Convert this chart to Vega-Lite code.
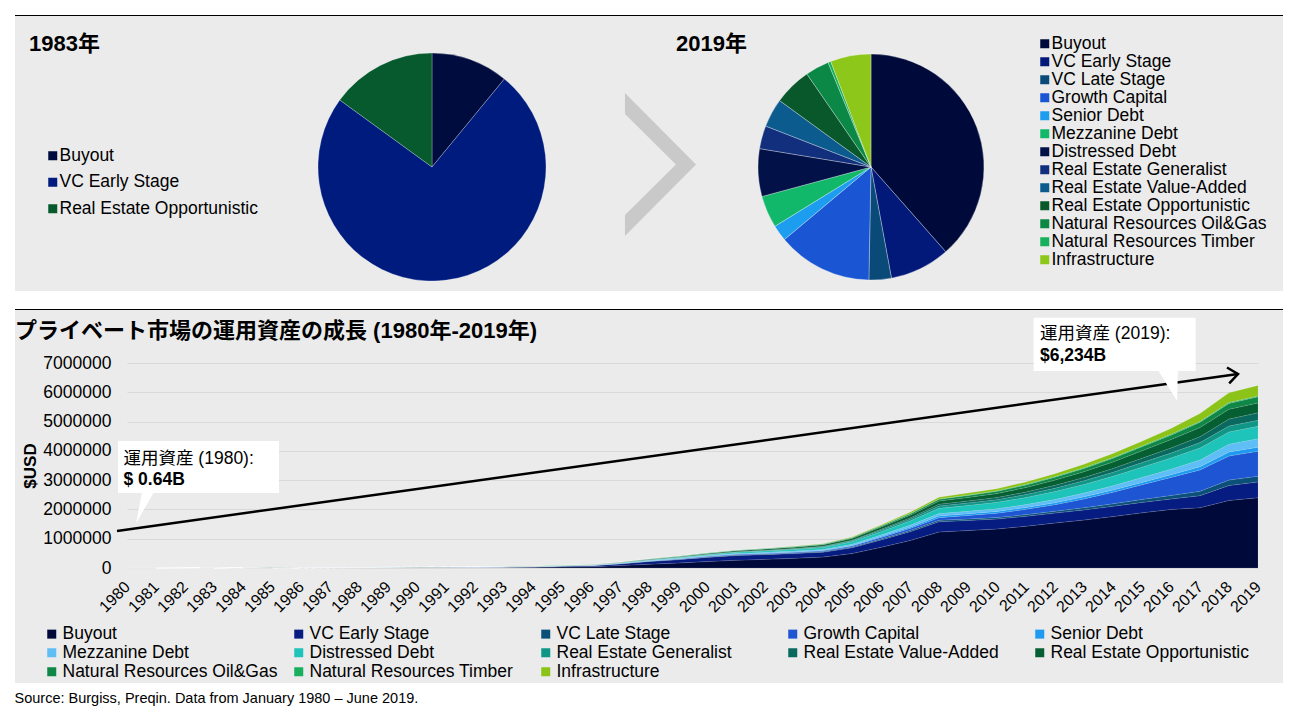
{
"$schema":"https://vega.github.io/schema/vega-lite/v6.json",
"padding":{"left":14,"top":14,"right":13,"bottom":8},
"background":"#ffffff",
"config":{"font":"Liberation Sans, Noto Sans CJK JP, sans-serif","view":{"fill":"#ebebeb","stroke":null},"legend":{"labelLimit":400,"labelColor":"#000000"},"axis":{"labelColor":"#000000","titleColor":"#000000"}},
"title":{"text":"Source: Burgiss, Preqin. Data from January 1980 – June 2019.","orient":"bottom","anchor":"start","fontSize":14.5,"fontWeight":"normal","color":"#000000","offset":9},
"datasets":{"aum":[
{"year":1980,"type":"Buyout","aum":60},{"year":1980,"type":"VC Early Stage","aum":520},{"year":1980,"type":"VC Late Stage","aum":0},{"year":1980,"type":"Growth Capital","aum":0},{"year":1980,"type":"Senior Debt","aum":0},{"year":1980,"type":"Mezzanine Debt","aum":0},{"year":1980,"type":"Distressed Debt","aum":0},{"year":1980,"type":"Real Estate Generalist","aum":0},{"year":1980,"type":"Real Estate Value-Added","aum":0},{"year":1980,"type":"Real Estate Opportunistic","aum":60},{"year":1980,"type":"Natural Resources Oil&Gas","aum":0},{"year":1980,"type":"Natural Resources Timber","aum":0},{"year":1980,"type":"Infrastructure","aum":0},
{"year":1981,"type":"Buyout","aum":100},{"year":1981,"type":"VC Early Stage","aum":780},{"year":1981,"type":"VC Late Stage","aum":0},{"year":1981,"type":"Growth Capital","aum":0},{"year":1981,"type":"Senior Debt","aum":0},{"year":1981,"type":"Mezzanine Debt","aum":0},{"year":1981,"type":"Distressed Debt","aum":0},{"year":1981,"type":"Real Estate Generalist","aum":0},{"year":1981,"type":"Real Estate Value-Added","aum":0},{"year":1981,"type":"Real Estate Opportunistic","aum":120},{"year":1981,"type":"Natural Resources Oil&Gas","aum":0},{"year":1981,"type":"Natural Resources Timber","aum":0},{"year":1981,"type":"Infrastructure","aum":0},
{"year":1982,"type":"Buyout","aum":160},{"year":1982,"type":"VC Early Stage","aum":1120},{"year":1982,"type":"VC Late Stage","aum":0},{"year":1982,"type":"Growth Capital","aum":0},{"year":1982,"type":"Senior Debt","aum":0},{"year":1982,"type":"Mezzanine Debt","aum":0},{"year":1982,"type":"Distressed Debt","aum":0},{"year":1982,"type":"Real Estate Generalist","aum":0},{"year":1982,"type":"Real Estate Value-Added","aum":0},{"year":1982,"type":"Real Estate Opportunistic","aum":220},{"year":1982,"type":"Natural Resources Oil&Gas","aum":0},{"year":1982,"type":"Natural Resources Timber","aum":0},{"year":1982,"type":"Infrastructure","aum":0},
{"year":1983,"type":"Buyout","aum":230},{"year":1983,"type":"VC Early Stage","aum":1555},{"year":1983,"type":"VC Late Stage","aum":0},{"year":1983,"type":"Growth Capital","aum":0},{"year":1983,"type":"Senior Debt","aum":0},{"year":1983,"type":"Mezzanine Debt","aum":0},{"year":1983,"type":"Distressed Debt","aum":0},{"year":1983,"type":"Real Estate Generalist","aum":0},{"year":1983,"type":"Real Estate Value-Added","aum":0},{"year":1983,"type":"Real Estate Opportunistic","aum":315},{"year":1983,"type":"Natural Resources Oil&Gas","aum":0},{"year":1983,"type":"Natural Resources Timber","aum":0},{"year":1983,"type":"Infrastructure","aum":0},
{"year":1984,"type":"Buyout","aum":420},{"year":1984,"type":"VC Early Stage","aum":2300},{"year":1984,"type":"VC Late Stage","aum":0},{"year":1984,"type":"Growth Capital","aum":0},{"year":1984,"type":"Senior Debt","aum":0},{"year":1984,"type":"Mezzanine Debt","aum":0},{"year":1984,"type":"Distressed Debt","aum":0},{"year":1984,"type":"Real Estate Generalist","aum":0},{"year":1984,"type":"Real Estate Value-Added","aum":0},{"year":1984,"type":"Real Estate Opportunistic","aum":480},{"year":1984,"type":"Natural Resources Oil&Gas","aum":0},{"year":1984,"type":"Natural Resources Timber","aum":0},{"year":1984,"type":"Infrastructure","aum":0},
{"year":1985,"type":"Buyout","aum":700},{"year":1985,"type":"VC Early Stage","aum":3100},{"year":1985,"type":"VC Late Stage","aum":0},{"year":1985,"type":"Growth Capital","aum":0},{"year":1985,"type":"Senior Debt","aum":0},{"year":1985,"type":"Mezzanine Debt","aum":100},{"year":1985,"type":"Distressed Debt","aum":0},{"year":1985,"type":"Real Estate Generalist","aum":0},{"year":1985,"type":"Real Estate Value-Added","aum":0},{"year":1985,"type":"Real Estate Opportunistic","aum":600},{"year":1985,"type":"Natural Resources Oil&Gas","aum":0},{"year":1985,"type":"Natural Resources Timber","aum":0},{"year":1985,"type":"Infrastructure","aum":0},
{"year":1986,"type":"Buyout","aum":1300},{"year":1986,"type":"VC Early Stage","aum":4000},{"year":1986,"type":"VC Late Stage","aum":200},{"year":1986,"type":"Growth Capital","aum":0},{"year":1986,"type":"Senior Debt","aum":0},{"year":1986,"type":"Mezzanine Debt","aum":200},{"year":1986,"type":"Distressed Debt","aum":0},{"year":1986,"type":"Real Estate Generalist","aum":0},{"year":1986,"type":"Real Estate Value-Added","aum":0},{"year":1986,"type":"Real Estate Opportunistic","aum":800},{"year":1986,"type":"Natural Resources Oil&Gas","aum":0},{"year":1986,"type":"Natural Resources Timber","aum":0},{"year":1986,"type":"Infrastructure","aum":0},
{"year":1987,"type":"Buyout","aum":3500},{"year":1987,"type":"VC Early Stage","aum":5500},{"year":1987,"type":"VC Late Stage","aum":500},{"year":1987,"type":"Growth Capital","aum":300},{"year":1987,"type":"Senior Debt","aum":0},{"year":1987,"type":"Mezzanine Debt","aum":600},{"year":1987,"type":"Distressed Debt","aum":300},{"year":1987,"type":"Real Estate Generalist","aum":0},{"year":1987,"type":"Real Estate Value-Added","aum":0},{"year":1987,"type":"Real Estate Opportunistic","aum":1300},{"year":1987,"type":"Natural Resources Oil&Gas","aum":0},{"year":1987,"type":"Natural Resources Timber","aum":0},{"year":1987,"type":"Infrastructure","aum":0},
{"year":1988,"type":"Buyout","aum":6000},{"year":1988,"type":"VC Early Stage","aum":7000},{"year":1988,"type":"VC Late Stage","aum":700},{"year":1988,"type":"Growth Capital","aum":500},{"year":1988,"type":"Senior Debt","aum":0},{"year":1988,"type":"Mezzanine Debt","aum":1200},{"year":1988,"type":"Distressed Debt","aum":800},{"year":1988,"type":"Real Estate Generalist","aum":0},{"year":1988,"type":"Real Estate Value-Added","aum":0},{"year":1988,"type":"Real Estate Opportunistic","aum":1800},{"year":1988,"type":"Natural Resources Oil&Gas","aum":0},{"year":1988,"type":"Natural Resources Timber","aum":0},{"year":1988,"type":"Infrastructure","aum":0},
{"year":1989,"type":"Buyout","aum":8500},{"year":1989,"type":"VC Early Stage","aum":8500},{"year":1989,"type":"VC Late Stage","aum":900},{"year":1989,"type":"Growth Capital","aum":700},{"year":1989,"type":"Senior Debt","aum":0},{"year":1989,"type":"Mezzanine Debt","aum":1600},{"year":1989,"type":"Distressed Debt","aum":1300},{"year":1989,"type":"Real Estate Generalist","aum":200},{"year":1989,"type":"Real Estate Value-Added","aum":0},{"year":1989,"type":"Real Estate Opportunistic","aum":2300},{"year":1989,"type":"Natural Resources Oil&Gas","aum":0},{"year":1989,"type":"Natural Resources Timber","aum":0},{"year":1989,"type":"Infrastructure","aum":0},
{"year":1990,"type":"Buyout","aum":11000},{"year":1990,"type":"VC Early Stage","aum":10000},{"year":1990,"type":"VC Late Stage","aum":1000},{"year":1990,"type":"Growth Capital","aum":900},{"year":1990,"type":"Senior Debt","aum":200},{"year":1990,"type":"Mezzanine Debt","aum":2000},{"year":1990,"type":"Distressed Debt","aum":1800},{"year":1990,"type":"Real Estate Generalist","aum":400},{"year":1990,"type":"Real Estate Value-Added","aum":0},{"year":1990,"type":"Real Estate Opportunistic","aum":2700},{"year":1990,"type":"Natural Resources Oil&Gas","aum":0},{"year":1990,"type":"Natural Resources Timber","aum":0},{"year":1990,"type":"Infrastructure","aum":0},
{"year":1991,"type":"Buyout","aum":12000},{"year":1991,"type":"VC Early Stage","aum":10500},{"year":1991,"type":"VC Late Stage","aum":1100},{"year":1991,"type":"Growth Capital","aum":1000},{"year":1991,"type":"Senior Debt","aum":300},{"year":1991,"type":"Mezzanine Debt","aum":2200},{"year":1991,"type":"Distressed Debt","aum":2200},{"year":1991,"type":"Real Estate Generalist","aum":500},{"year":1991,"type":"Real Estate Value-Added","aum":200},{"year":1991,"type":"Real Estate Opportunistic","aum":3000},{"year":1991,"type":"Natural Resources Oil&Gas","aum":0},{"year":1991,"type":"Natural Resources Timber","aum":0},{"year":1991,"type":"Infrastructure","aum":0},
{"year":1992,"type":"Buyout","aum":14000},{"year":1992,"type":"VC Early Stage","aum":11500},{"year":1992,"type":"VC Late Stage","aum":1200},{"year":1992,"type":"Growth Capital","aum":1100},{"year":1992,"type":"Senior Debt","aum":400},{"year":1992,"type":"Mezzanine Debt","aum":2500},{"year":1992,"type":"Distressed Debt","aum":2600},{"year":1992,"type":"Real Estate Generalist","aum":700},{"year":1992,"type":"Real Estate Value-Added","aum":300},{"year":1992,"type":"Real Estate Opportunistic","aum":3200},{"year":1992,"type":"Natural Resources Oil&Gas","aum":500},{"year":1992,"type":"Natural Resources Timber","aum":0},{"year":1992,"type":"Infrastructure","aum":0},
{"year":1993,"type":"Buyout","aum":17000},{"year":1993,"type":"VC Early Stage","aum":13000},{"year":1993,"type":"VC Late Stage","aum":1400},{"year":1993,"type":"Growth Capital","aum":1300},{"year":1993,"type":"Senior Debt","aum":500},{"year":1993,"type":"Mezzanine Debt","aum":2900},{"year":1993,"type":"Distressed Debt","aum":3000},{"year":1993,"type":"Real Estate Generalist","aum":900},{"year":1993,"type":"Real Estate Value-Added","aum":400},{"year":1993,"type":"Real Estate Opportunistic","aum":3500},{"year":1993,"type":"Natural Resources Oil&Gas","aum":800},{"year":1993,"type":"Natural Resources Timber","aum":300},{"year":1993,"type":"Infrastructure","aum":0},
{"year":1994,"type":"Buyout","aum":23000},{"year":1994,"type":"VC Early Stage","aum":17500},{"year":1994,"type":"VC Late Stage","aum":1800},{"year":1994,"type":"Growth Capital","aum":1800},{"year":1994,"type":"Senior Debt","aum":600},{"year":1994,"type":"Mezzanine Debt","aum":3700},{"year":1994,"type":"Distressed Debt","aum":3800},{"year":1994,"type":"Real Estate Generalist","aum":1200},{"year":1994,"type":"Real Estate Value-Added","aum":600},{"year":1994,"type":"Real Estate Opportunistic","aum":3800},{"year":1994,"type":"Natural Resources Oil&Gas","aum":1200},{"year":1994,"type":"Natural Resources Timber","aum":500},{"year":1994,"type":"Infrastructure","aum":0},
{"year":1995,"type":"Buyout","aum":36000},{"year":1995,"type":"VC Early Stage","aum":27000},{"year":1995,"type":"VC Late Stage","aum":2700},{"year":1995,"type":"Growth Capital","aum":2700},{"year":1995,"type":"Senior Debt","aum":900},{"year":1995,"type":"Mezzanine Debt","aum":5400},{"year":1995,"type":"Distressed Debt","aum":5400},{"year":1995,"type":"Real Estate Generalist","aum":1800},{"year":1995,"type":"Real Estate Value-Added","aum":900},{"year":1995,"type":"Real Estate Opportunistic","aum":4500},{"year":1995,"type":"Natural Resources Oil&Gas","aum":1800},{"year":1995,"type":"Natural Resources Timber","aum":900},{"year":1995,"type":"Infrastructure","aum":0},
{"year":1996,"type":"Buyout","aum":44700},{"year":1996,"type":"VC Early Stage","aum":32600},{"year":1996,"type":"VC Late Stage","aum":3300},{"year":1996,"type":"Growth Capital","aum":3500},{"year":1996,"type":"Senior Debt","aum":1100},{"year":1996,"type":"Mezzanine Debt","aum":6200},{"year":1996,"type":"Distressed Debt","aum":6600},{"year":1996,"type":"Real Estate Generalist","aum":2200},{"year":1996,"type":"Real Estate Value-Added","aum":1100},{"year":1996,"type":"Real Estate Opportunistic","aum":5500},{"year":1996,"type":"Natural Resources Oil&Gas","aum":2200},{"year":1996,"type":"Natural Resources Timber","aum":1100},{"year":1996,"type":"Infrastructure","aum":0},
{"year":1997,"type":"Buyout","aum":82400},{"year":1997,"type":"VC Early Stage","aum":58400},{"year":1997,"type":"VC Late Stage","aum":6000},{"year":1997,"type":"Growth Capital","aum":6800},{"year":1997,"type":"Senior Debt","aum":2000},{"year":1997,"type":"Mezzanine Debt","aum":10400},{"year":1997,"type":"Distressed Debt","aum":12000},{"year":1997,"type":"Real Estate Generalist","aum":4000},{"year":1997,"type":"Real Estate Value-Added","aum":2000},{"year":1997,"type":"Real Estate Opportunistic","aum":10000},{"year":1997,"type":"Natural Resources Oil&Gas","aum":4000},{"year":1997,"type":"Natural Resources Timber","aum":2000},{"year":1997,"type":"Infrastructure","aum":0},
{"year":1998,"type":"Buyout","aum":129600},{"year":1998,"type":"VC Early Stage","aum":89300},{"year":1998,"type":"VC Late Stage","aum":9300},{"year":1998,"type":"Growth Capital","aum":11200},{"year":1998,"type":"Senior Debt","aum":3100},{"year":1998,"type":"Mezzanine Debt","aum":14900},{"year":1998,"type":"Distressed Debt","aum":18600},{"year":1998,"type":"Real Estate Generalist","aum":6200},{"year":1998,"type":"Real Estate Value-Added","aum":3100},{"year":1998,"type":"Real Estate Opportunistic","aum":15500},{"year":1998,"type":"Natural Resources Oil&Gas","aum":6200},{"year":1998,"type":"Natural Resources Timber","aum":3100},{"year":1998,"type":"Infrastructure","aum":0},
{"year":1999,"type":"Buyout","aum":169600},{"year":1999,"type":"VC Early Stage","aum":113600},{"year":1999,"type":"VC Late Stage","aum":12000},{"year":1999,"type":"Growth Capital","aum":15200},{"year":1999,"type":"Senior Debt","aum":4000},{"year":1999,"type":"Mezzanine Debt","aum":17600},{"year":1999,"type":"Distressed Debt","aum":24000},{"year":1999,"type":"Real Estate Generalist","aum":8000},{"year":1999,"type":"Real Estate Value-Added","aum":4000},{"year":1999,"type":"Real Estate Opportunistic","aum":20000},{"year":1999,"type":"Natural Resources Oil&Gas","aum":8000},{"year":1999,"type":"Natural Resources Timber","aum":4000},{"year":1999,"type":"Infrastructure","aum":0},
{"year":2000,"type":"Buyout","aum":219300},{"year":2000,"type":"VC Early Stage","aum":142800},{"year":2000,"type":"VC Late Stage","aum":15300},{"year":2000,"type":"Growth Capital","aum":20400},{"year":2000,"type":"Senior Debt","aum":5100},{"year":2000,"type":"Mezzanine Debt","aum":20400},{"year":2000,"type":"Distressed Debt","aum":30600},{"year":2000,"type":"Real Estate Generalist","aum":10200},{"year":2000,"type":"Real Estate Value-Added","aum":5100},{"year":2000,"type":"Real Estate Opportunistic","aum":25500},{"year":2000,"type":"Natural Resources Oil&Gas","aum":10200},{"year":2000,"type":"Natural Resources Timber","aum":5100},{"year":2000,"type":"Infrastructure","aum":0},
{"year":2001,"type":"Buyout","aum":265400},{"year":2001,"type":"VC Early Stage","aum":158600},{"year":2001,"type":"VC Late Stage","aum":17700},{"year":2001,"type":"Growth Capital","aum":23800},{"year":2001,"type":"Senior Debt","aum":6700},{"year":2001,"type":"Mezzanine Debt","aum":24400},{"year":2001,"type":"Distressed Debt","aum":39700},{"year":2001,"type":"Real Estate Generalist","aum":13700},{"year":2001,"type":"Real Estate Value-Added","aum":7600},{"year":2001,"type":"Real Estate Opportunistic","aum":32000},{"year":2001,"type":"Natural Resources Oil&Gas","aum":12200},{"year":2001,"type":"Natural Resources Timber","aum":6100},{"year":2001,"type":"Infrastructure","aum":2100},
{"year":2002,"type":"Buyout","aum":294800},{"year":2002,"type":"VC Early Stage","aum":160800},{"year":2002,"type":"VC Late Stage","aum":18400},{"year":2002,"type":"Growth Capital","aum":25100},{"year":2002,"type":"Senior Debt","aum":8400},{"year":2002,"type":"Mezzanine Debt","aum":26800},{"year":2002,"type":"Distressed Debt","aum":46900},{"year":2002,"type":"Real Estate Generalist","aum":16800},{"year":2002,"type":"Real Estate Value-Added","aum":10100},{"year":2002,"type":"Real Estate Opportunistic","aum":36900},{"year":2002,"type":"Natural Resources Oil&Gas","aum":13400},{"year":2002,"type":"Natural Resources Timber","aum":6700},{"year":2002,"type":"Infrastructure","aum":5000},
{"year":2003,"type":"Buyout","aum":329300},{"year":2003,"type":"VC Early Stage","aum":162800},{"year":2003,"type":"VC Late Stage","aum":19200},{"year":2003,"type":"Growth Capital","aum":26600},{"year":2003,"type":"Senior Debt","aum":10400},{"year":2003,"type":"Mezzanine Debt","aum":29600},{"year":2003,"type":"Distressed Debt","aum":55500},{"year":2003,"type":"Real Estate Generalist","aum":20400},{"year":2003,"type":"Real Estate Value-Added","aum":13000},{"year":2003,"type":"Real Estate Opportunistic","aum":42600},{"year":2003,"type":"Natural Resources Oil&Gas","aum":14800},{"year":2003,"type":"Natural Resources Timber","aum":7400},{"year":2003,"type":"Infrastructure","aum":8500},
{"year":2004,"type":"Buyout","aum":373500},{"year":2004,"type":"VC Early Stage","aum":166000},{"year":2004,"type":"VC Late Stage","aum":20800},{"year":2004,"type":"Growth Capital","aum":29100},{"year":2004,"type":"Senior Debt","aum":12500},{"year":2004,"type":"Mezzanine Debt","aum":33200},{"year":2004,"type":"Distressed Debt","aum":66400},{"year":2004,"type":"Real Estate Generalist","aum":24900},{"year":2004,"type":"Real Estate Value-Added","aum":16600},{"year":2004,"type":"Real Estate Opportunistic","aum":49800},{"year":2004,"type":"Natural Resources Oil&Gas","aum":16600},{"year":2004,"type":"Natural Resources Timber","aum":8300},{"year":2004,"type":"Infrastructure","aum":12500},
{"year":2005,"type":"Buyout","aum":492900},{"year":2005,"type":"VC Early Stage","aum":197200},{"year":2005,"type":"VC Late Stage","aum":25400},{"year":2005,"type":"Growth Capital","aum":37600},{"year":2005,"type":"Senior Debt","aum":18600},{"year":2005,"type":"Mezzanine Debt","aum":40300},{"year":2005,"type":"Distressed Debt","aum":83200},{"year":2005,"type":"Real Estate Generalist","aum":32900},{"year":2005,"type":"Real Estate Value-Added","aum":22300},{"year":2005,"type":"Real Estate Opportunistic","aum":59400},{"year":2005,"type":"Natural Resources Oil&Gas","aum":22300},{"year":2005,"type":"Natural Resources Timber","aum":9500},{"year":2005,"type":"Infrastructure","aum":18600},
{"year":2006,"type":"Buyout","aum":705600},{"year":2006,"type":"VC Early Stage","aum":252800},{"year":2006,"type":"VC Late Stage","aum":33100},{"year":2006,"type":"Growth Capital","aum":52900},{"year":2006,"type":"Senior Debt","aum":29400},{"year":2006,"type":"Mezzanine Debt","aum":53700},{"year":2006,"type":"Distressed Debt","aum":113200},{"year":2006,"type":"Real Estate Generalist","aum":47000},{"year":2006,"type":"Real Estate Value-Added","aum":33100},{"year":2006,"type":"Real Estate Opportunistic","aum":76400},{"year":2006,"type":"Natural Resources Oil&Gas","aum":33100},{"year":2006,"type":"Natural Resources Timber","aum":11000},{"year":2006,"type":"Infrastructure","aum":28700},
{"year":2007,"type":"Buyout","aum":938600},{"year":2007,"type":"VC Early Stage","aum":300200},{"year":2007,"type":"VC Late Stage","aum":39900},{"year":2007,"type":"Growth Capital","aum":69400},{"year":2007,"type":"Senior Debt","aum":42800},{"year":2007,"type":"Mezzanine Debt","aum":66500},{"year":2007,"type":"Distressed Debt","aum":143500},{"year":2007,"type":"Real Estate Generalist","aum":61800},{"year":2007,"type":"Real Estate Value-Added","aum":45600},{"year":2007,"type":"Real Estate Opportunistic","aum":92200},{"year":2007,"type":"Natural Resources Oil&Gas","aum":45600},{"year":2007,"type":"Natural Resources Timber","aum":11400},{"year":2007,"type":"Infrastructure","aum":42800},
{"year":2008,"type":"Buyout","aum":1229400},{"year":2008,"type":"VC Early Stage","aum":350900},{"year":2008,"type":"VC Late Stage","aum":48400},{"year":2008,"type":"Growth Capital","aum":89500},{"year":2008,"type":"Senior Debt","aum":60500},{"year":2008,"type":"Mezzanine Debt","aum":79900},{"year":2008,"type":"Distressed Debt","aum":179100},{"year":2008,"type":"Real Estate Generalist","aum":79900},{"year":2008,"type":"Real Estate Value-Added","aum":60500},{"year":2008,"type":"Real Estate Opportunistic","aum":108900},{"year":2008,"type":"Natural Resources Oil&Gas","aum":60500},{"year":2008,"type":"Natural Resources Timber","aum":12100},{"year":2008,"type":"Infrastructure","aum":60500},
{"year":2009,"type":"Buyout","aum":1280000},{"year":2009,"type":"VC Early Stage","aum":345600},{"year":2009,"type":"VC Late Stage","aum":51200},{"year":2009,"type":"Growth Capital","aum":115200},{"year":2009,"type":"Senior Debt","aum":61400},{"year":2009,"type":"Mezzanine Debt","aum":85800},{"year":2009,"type":"Distressed Debt","aum":197100},{"year":2009,"type":"Real Estate Generalist","aum":85800},{"year":2009,"type":"Real Estate Value-Added","aum":66600},{"year":2009,"type":"Real Estate Opportunistic","aum":121600},{"year":2009,"type":"Natural Resources Oil&Gas","aum":66600},{"year":2009,"type":"Natural Resources Timber","aum":15400},{"year":2009,"type":"Infrastructure","aum":67800},
{"year":2010,"type":"Buyout","aum":1333300},{"year":2010,"type":"VC Early Stage","aum":338800},{"year":2010,"type":"VC Late Stage","aum":54200},{"year":2010,"type":"Growth Capital","aum":143600},{"year":2010,"type":"Senior Debt","aum":62300},{"year":2010,"type":"Mezzanine Debt","aum":92100},{"year":2010,"type":"Distressed Debt","aum":216800},{"year":2010,"type":"Real Estate Generalist","aum":92100},{"year":2010,"type":"Real Estate Value-Added","aum":74500},{"year":2010,"type":"Real Estate Opportunistic","aum":135500},{"year":2010,"type":"Natural Resources Oil&Gas","aum":74500},{"year":2010,"type":"Natural Resources Timber","aum":19000},{"year":2010,"type":"Infrastructure","aum":73200},
{"year":2011,"type":"Buyout","aum":1425900},{"year":2011,"type":"VC Early Stage","aum":338100},{"year":2011,"type":"VC Late Stage","aum":58800},{"year":2011,"type":"Growth Capital","aum":179300},{"year":2011,"type":"Senior Debt","aum":63200},{"year":2011,"type":"Mezzanine Debt","aum":101400},{"year":2011,"type":"Distressed Debt","aum":242600},{"year":2011,"type":"Real Estate Generalist","aum":101400},{"year":2011,"type":"Real Estate Value-Added","aum":83800},{"year":2011,"type":"Real Estate Opportunistic","aum":154400},{"year":2011,"type":"Natural Resources Oil&Gas","aum":85300},{"year":2011,"type":"Natural Resources Timber","aum":22100},{"year":2011,"type":"Infrastructure","aum":83800},
{"year":2012,"type":"Buyout","aum":1535900},{"year":2012,"type":"VC Early Stage","aum":338100},{"year":2012,"type":"VC Late Stage","aum":64400},{"year":2012,"type":"Growth Capital","aum":225400},{"year":2012,"type":"Senior Debt","aum":64400},{"year":2012,"type":"Mezzanine Debt","aum":112700},{"year":2012,"type":"Distressed Debt","aum":273700},{"year":2012,"type":"Real Estate Generalist","aum":112700},{"year":2012,"type":"Real Estate Value-Added","aum":96600},{"year":2012,"type":"Real Estate Opportunistic","aum":177100},{"year":2012,"type":"Natural Resources Oil&Gas","aum":96600},{"year":2012,"type":"Natural Resources Timber","aum":25800},{"year":2012,"type":"Infrastructure","aum":96600},
{"year":2013,"type":"Buyout","aum":1639000},{"year":2013,"type":"VC Early Stage","aum":345200},{"year":2013,"type":"VC Late Stage","aum":74300},{"year":2013,"type":"Growth Capital","aum":300900},{"year":2013,"type":"Senior Debt","aum":70100},{"year":2013,"type":"Mezzanine Debt","aum":128100},{"year":2013,"type":"Distressed Debt","aum":296700},{"year":2013,"type":"Real Estate Generalist","aum":124600},{"year":2013,"type":"Real Estate Value-Added","aum":111500},{"year":2013,"type":"Real Estate Opportunistic","aum":199000},{"year":2013,"type":"Natural Resources Oil&Gas","aum":108000},{"year":2013,"type":"Natural Resources Timber","aum":27600},{"year":2013,"type":"Infrastructure","aum":115100},
{"year":2014,"type":"Buyout","aum":1755600},{"year":2014,"type":"VC Early Stage","aum":351900},{"year":2014,"type":"VC Late Stage","aum":86000},{"year":2014,"type":"Growth Capital","aum":391000},{"year":2014,"type":"Senior Debt","aum":76200},{"year":2014,"type":"Mezzanine Debt","aum":146600},{"year":2014,"type":"Distressed Debt","aum":322600},{"year":2014,"type":"Real Estate Generalist","aum":138800},{"year":2014,"type":"Real Estate Value-Added","aum":129000},{"year":2014,"type":"Real Estate Opportunistic","aum":224800},{"year":2014,"type":"Natural Resources Oil&Gas","aum":121200},{"year":2014,"type":"Natural Resources Timber","aum":29300},{"year":2014,"type":"Infrastructure","aum":136900},
{"year":2015,"type":"Buyout","aum":1883600},{"year":2015,"type":"VC Early Stage","aum":357200},{"year":2015,"type":"VC Late Stage","aum":101800},{"year":2015,"type":"Growth Capital","aum":498000},{"year":2015,"type":"Senior Debt","aum":83100},{"year":2015,"type":"Mezzanine Debt","aum":168000},{"year":2015,"type":"Distressed Debt","aum":351600},{"year":2015,"type":"Real Estate Generalist","aum":155000},{"year":2015,"type":"Real Estate Value-Added","aum":149400},{"year":2015,"type":"Real Estate Opportunistic","aum":254600},{"year":2015,"type":"Natural Resources Oil&Gas","aum":136400},{"year":2015,"type":"Natural Resources Timber","aum":31200},{"year":2015,"type":"Infrastructure","aum":160200},
{"year":2016,"type":"Buyout","aum":1999200},{"year":2016,"type":"VC Early Stage","aum":357000},{"year":2016,"type":"VC Late Stage","aum":119000},{"year":2016,"type":"Growth Capital","aum":618800},{"year":2016,"type":"Senior Debt","aum":90400},{"year":2016,"type":"Mezzanine Debt","aum":190400},{"year":2016,"type":"Distressed Debt","aum":380800},{"year":2016,"type":"Real Estate Generalist","aum":171400},{"year":2016,"type":"Real Estate Value-Added","aum":171400},{"year":2016,"type":"Real Estate Opportunistic","aum":285600},{"year":2016,"type":"Natural Resources Oil&Gas","aum":152300},{"year":2016,"type":"Natural Resources Timber","aum":33300},{"year":2016,"type":"Infrastructure","aum":190400},
{"year":2017,"type":"Buyout","aum":2059200},{"year":2017,"type":"VC Early Stage","aum":411800},{"year":2017,"type":"VC Late Stage","aum":147800},{"year":2017,"type":"Growth Capital","aum":728600},{"year":2017,"type":"Senior Debt","aum":110900},{"year":2017,"type":"Mezzanine Debt","aum":227000},{"year":2017,"type":"Distressed Debt","aum":411800},{"year":2017,"type":"Real Estate Generalist","aum":184800},{"year":2017,"type":"Real Estate Value-Added","aum":200600},{"year":2017,"type":"Real Estate Opportunistic","aum":316800},{"year":2017,"type":"Natural Resources Oil&Gas","aum":174200},{"year":2017,"type":"Natural Resources Timber","aum":31700},{"year":2017,"type":"Infrastructure","aum":274600},
{"year":2018,"type":"Buyout","aum":2308300},{"year":2018,"type":"VC Early Stage","aum":508300},{"year":2018,"type":"VC Late Stage","aum":185400},{"year":2018,"type":"Growth Capital","aum":819300},{"year":2018,"type":"Senior Debt","aum":137500},{"year":2018,"type":"Mezzanine Debt","aum":269100},{"year":2018,"type":"Distressed Debt","aum":418600},{"year":2018,"type":"Real Estate Generalist","aum":200300},{"year":2018,"type":"Real Estate Value-Added","aum":239200},{"year":2018,"type":"Real Estate Opportunistic","aum":334900},{"year":2018,"type":"Natural Resources Oil&Gas","aum":200300},{"year":2018,"type":"Natural Resources Timber","aum":26900},{"year":2018,"type":"Infrastructure","aum":331900},
{"year":2019,"type":"Buyout","aum":2400100},{"year":2019,"type":"VC Early Stage","aum":536100},{"year":2019,"type":"VC Late Stage","aum":199500},{"year":2019,"type":"Growth Capital","aum":847800},{"year":2019,"type":"Senior Debt","aum":143400},{"year":2019,"type":"Mezzanine Debt","aum":286800},{"year":2019,"type":"Distressed Debt","aum":423900},{"year":2019,"type":"Real Estate Generalist","aum":205700},{"year":2019,"type":"Real Estate Value-Added","aum":255600},{"year":2019,"type":"Real Estate Opportunistic","aum":336600},{"year":2019,"type":"Natural Resources Oil&Gas","aum":212000},{"year":2019,"type":"Natural Resources Timber","aum":24900},{"year":2019,"type":"Infrastructure","aum":361600}
]},
"spacing":0,
"bounds":"full",
"resolve":{"scale":{"x":"independent","y":"independent","color":"independent","theta":"independent"},"legend":{"color":"independent"}},
"vconcat":[
{"width":1268,"height":14,"data":{"values":[{}]},"mark":{"type":"rule","color":"#000000","strokeWidth":1},"encoding":{"y":{"datum":13.5,"type":"quantitative","scale":{"domain":[0,14]},"axis":null}}},
{"hconcat":[
 {"width":303,"height":262,"view":{"fill":"#ebebeb","stroke":null},
  "title":{"text":"1983年","anchor":"start","frame":"group","dx":14,"offset":-36.5,"baseline":"middle","fontSize":22,"fontWeight":"bold","color":"#000000"},
  "layer":[
   {"data":{"values":[{}]},"mark":{"type":"rect","color":"#ebebeb","opacity":1},"encoding":{}},
   {"data":{"name":"aum"},
    "transform":[{"filter":"datum.year == 1983 && datum.aum > 0"}],
    "mark":{"type":"arc","opacity":0},
    "encoding":{"theta":{"field":"aum","type":"quantitative"},
     "color":{"field":"type","type":"nominal","scale":{"domain":["Buyout","VC Early Stage","Real Estate Opportunistic"],"range":["#000c3d","#001b7e","#065a2e"]},
      "legend":{"orient":"none","legendX":29,"legendY":118,"title":null,"symbolType":"square","symbolSize":81,"symbolOpacity":1,"symbolStrokeWidth":0,"labelFontSize":17.5,"labelOffset":-2,"rowPadding":7.5,"padding":0}}}}
  ]},
 {"width":228,"height":262,"view":{"fill":"#ebebeb","stroke":null},
  "layer":[
   {"data":{"values":[{}]},"mark":{"type":"rect","color":"#ebebeb","opacity":1},"encoding":{}},
   {"data":{"name":"aum"},
    "transform":[{"filter":"datum.year == 1983 && datum.aum > 0"},{"calculate":"indexof(['Buyout','VC Early Stage','VC Late Stage','Growth Capital','Senior Debt','Mezzanine Debt','Distressed Debt','Real Estate Generalist','Real Estate Value-Added','Real Estate Opportunistic','Natural Resources Oil&Gas','Natural Resources Timber','Infrastructure'], datum.type)","as":"ord"}],
    "mark":{"type":"arc","stroke":"#ffffff","strokeWidth":0.5,"strokeOpacity":0.5,"yOffset":7},
    "encoding":{"theta":{"field":"aum","type":"quantitative","stack":true},
     "color":{"field":"type","type":"nominal","scale":{"domain":["Buyout","VC Early Stage","Real Estate Opportunistic"],"range":["#000c3d","#001b7e","#065a2e"]},"legend":null},
     "order":{"field":"ord","type":"quantitative"}}}
  ]},
 {"width":212,"height":262,"view":{"fill":"#ebebeb","stroke":null},
  "title":{"text":"2019年","anchor":"start","frame":"group","dx":130,"offset":-36.5,"baseline":"middle","fontSize":22,"fontWeight":"bold","color":"#000000"},
  "layer":[
   {"data":{"values":[{}]},"mark":{"type":"rect","color":"#ebebeb","opacity":1},"encoding":{}},
   {"data":{"values":[{}]},
    "mark":{"type":"point","shape":"M-0.378,-0.937L0.615,0.063L-0.378,1.063L-0.378,0.769L0.335,0.063L-0.378,-0.643Z","size":20449,"filled":true,"color":"#c9c9c9","opacity":1,"strokeWidth":0},
    "encoding":{}}
  ]},
 {"width":226,"height":262,"view":{"fill":"#ebebeb","stroke":null},
  "layer":[
   {"data":{"values":[{}]},"mark":{"type":"rect","color":"#ebebeb","opacity":1},"encoding":{}},
   {"data":{"name":"aum"},
    "transform":[{"filter":"datum.year == 2019 && datum.aum > 0"},{"calculate":"indexof(['Buyout','VC Early Stage','VC Late Stage','Growth Capital','Senior Debt','Mezzanine Debt','Distressed Debt','Real Estate Generalist','Real Estate Value-Added','Real Estate Opportunistic','Natural Resources Oil&Gas','Natural Resources Timber','Infrastructure'], datum.type)","as":"ord"}],
    "mark":{"type":"arc","stroke":"#ffffff","strokeWidth":0.5,"strokeOpacity":0.6,"yOffset":7},
    "encoding":{"theta":{"field":"aum","type":"quantitative","stack":true},
     "color":{"field":"type","type":"nominal","scale":{"domain":["Buyout","VC Early Stage","VC Late Stage","Growth Capital","Senior Debt","Mezzanine Debt","Distressed Debt","Real Estate Generalist","Real Estate Value-Added","Real Estate Opportunistic","Natural Resources Oil&Gas","Natural Resources Timber","Infrastructure"],"range":["#000a3a","#03197a","#0a4a78","#1a56d3","#1c9df0","#11b86a","#021148","#112f7c","#0c5b8f","#09582c","#0b8746","#17b05d","#8dc71a"]},"legend":null},
     "order":{"field":"ord","type":"quantitative"}}}
  ]},
 {"width":299,"height":262,"view":{"fill":"#ebebeb","stroke":null},
  "layer":[
   {"data":{"values":[{}]},"mark":{"type":"rect","color":"#ebebeb","opacity":1},"encoding":{}},
   {"data":{"name":"aum"},
    "transform":[{"filter":"datum.year == 2019 && datum.aum > 0"}],
    "mark":{"type":"arc","opacity":0},
    "encoding":{"theta":{"field":"aum","type":"quantitative"},
     "color":{"field":"type","type":"nominal","scale":{"domain":["Buyout","VC Early Stage","VC Late Stage","Growth Capital","Senior Debt","Mezzanine Debt","Distressed Debt","Real Estate Generalist","Real Estate Value-Added","Real Estate Opportunistic","Natural Resources Oil&Gas","Natural Resources Timber","Infrastructure"],"range":["#000a3a","#03197a","#0a4a78","#1a56d3","#1c9df0","#11b86a","#021148","#112f7c","#0c5b8f","#09582c","#0b8746","#17b05d","#8dc71a"]},
      "legend":{"orient":"none","legendX":52,"legendY":6,"title":null,"symbolType":"square","symbolSize":81,"symbolOpacity":1,"symbolStrokeWidth":0,"labelFontSize":17.5,"labelOffset":-2,"rowPadding":-1,"padding":0}}}}
  ]}
 ],
 "spacing":0,"bounds":"flush",
 "resolve":{"scale":{"color":"independent","theta":"independent"},"legend":{"color":"independent"}}},
{"width":1268,"height":19,"view":{"fill":"#ffffff","stroke":null},"data":{"values":[{}]},"mark":{"type":"rule","color":"#000000","strokeWidth":1},"encoding":{"y":{"datum":0.5,"type":"quantitative","scale":{"domain":[0,19]},"axis":null}}},
{"width":1268,"height":373,
 "title":{"text":"プライベート市場の運用資産の成長 (1980年-2019年)","anchor":"start","frame":"group","offset":-42.5,"baseline":"middle","fontSize":22,"fontWeight":"bold","color":"#000000"},
 "layer":[
  {"data":{"name":"aum"},
   "transform":[{"calculate":"indexof(['Buyout','VC Early Stage','VC Late Stage','Growth Capital','Senior Debt','Mezzanine Debt','Distressed Debt','Real Estate Generalist','Real Estate Value-Added','Real Estate Opportunistic','Natural Resources Oil&Gas','Natural Resources Timber','Infrastructure'], datum.type)","as":"ord"}],
   "mark":{"type":"area","stroke":"#ffffff","strokeWidth":0.4,"strokeOpacity":0.25},
   "encoding":{
    "x":{"field":"year","type":"quantitative","scale":{"domain":[1980,2019],"range":[112,1243],"nice":false,"zero":false},
     "axis":{"orient":"bottom","offset":-115,"values":[1980,1981,1982,1983,1984,1985,1986,1987,1988,1989,1990,1991,1992,1993,1994,1995,1996,1997,1998,1999,2000,2001,2002,2003,2004,2005,2006,2007,2008,2009,2010,2011,2012,2013,2014,2015,2016,2017,2018,2019],"tickCount":60,"format":"d","labelAngle":-45,"labelAlign":"right","labelBaseline":"middle","labelFontSize":16,"labelPadding":16,"ticks":false,"domain":false,"grid":false,"title":null,"labelOverlap":false,"labelSeparation":-40,"labelFlush":false,"labelBound":false}},
    "y":{"field":"aum","type":"quantitative","stack":"zero","scale":{"domain":[0,7000000],"range":[258,53],"nice":false,"zero":true},
     "axis":{"orient":"left","offset":-112,"values":[0,1000000,2000000,3000000,4000000,5000000,6000000,7000000],"tickCount":20,"format":"d","labelFontSize":17.5,"labelPadding":16,"ticks":false,"domain":false,"grid":true,"gridColor":"#d9d9d9","gridWidth":1,"title":"$USD","titleFontSize":17,"titleFontWeight":"bold","titlePadding":3,"labelOverlap":false}},
    "color":{"field":"type","type":"nominal","scale":{"domain":["Buyout","VC Early Stage","VC Late Stage","Growth Capital","Senior Debt","Mezzanine Debt","Distressed Debt","Real Estate Generalist","Real Estate Value-Added","Real Estate Opportunistic","Natural Resources Oil&Gas","Natural Resources Timber","Infrastructure"],"range":["#000a3a","#071c80","#0b5078","#1e55d2","#1e9bf0","#5fbef5","#1ec3b9","#0f9687","#0a695f","#055f32","#0f8746","#19af5f","#8cc319"]},
     "legend":{"orient":"none","direction":"horizontal","legendX":28,"legendY":315,"title":null,"columns":5,"gridAlign":"all","columnPadding":12,"rowPadding":0,"symbolType":"square","symbolSize":81,"symbolOpacity":1,"symbolStrokeWidth":0,"labelFontSize":17.5,"labelOffset":2,"padding":0}},
    "order":{"field":"ord","type":"quantitative"}}},
  {"data":{"values":[{}]},"mark":{"type":"rule","color":"#000000","strokeWidth":2.5},
   "encoding":{"x":{"datum":1979.655,"type":"quantitative"},"y":{"datum":1263000,"type":"quantitative"},"x2":{"datum":2018.31},"y2":{"datum":6624000}}},
  {"data":{"values":[{}]},"mark":{"type":"point","shape":"M-1,-0.8L0,0L-1,0.8","size":400,"filled":false,"stroke":"#000000","strokeWidth":2.5,"angle":-8,"opacity":1},
   "encoding":{"x":{"datum":2018.31,"type":"quantitative"},"y":{"datum":6624000,"type":"quantitative"}}},
  {"data":{"values":[{}]},"mark":{"type":"rect","color":"#ffffff","opacity":1},
   "encoding":{"x":{"datum":1979.69,"type":"quantitative"},"x2":{"datum":1985.24},"y":{"datum":4337000,"type":"quantitative"},"y2":{"datum":2561000}}},
  {"data":{"values":[{}]},"mark":{"type":"rect","color":"#ffffff","opacity":1},
   "encoding":{"x":{"datum":2011.262,"type":"quantitative"},"x2":{"datum":2016.852},"y":{"datum":8547000,"type":"quantitative"},"y2":{"datum":6727000}}},
  {"data":{"values":[{}]},"mark":{"type":"point","shape":"M0,0L0.4,0L-0.2,1.05Z","size":3600,"filled":true,"color":"#ffffff","opacity":1,"strokeWidth":0},
   "encoding":{"x":{"datum":1980.517,"type":"quantitative"},"y":{"datum":2595000,"type":"quantitative"}}},
  {"data":{"values":[{}]},"mark":{"type":"point","shape":"M0,0L0.645,0L0.613,1Z","size":3844,"filled":true,"color":"#ffffff","opacity":1,"strokeWidth":0},
   "encoding":{"x":{"datum":2015.552,"type":"quantitative"},"y":{"datum":6761000,"type":"quantitative"}}},
  {"data":{"values":[{}]},"mark":{"type":"text","text":"運用資産 (1980):","align":"left","baseline":"middle","fontSize":17.5,"color":"#000000"},
   "encoding":{"x":{"datum":1979.879,"type":"quantitative"},"y":{"datum":3722000,"type":"quantitative"}}},
  {"data":{"values":[{}]},"mark":{"type":"text","text":"$ 0.64B","align":"left","baseline":"middle","fontSize":17.5,"fontWeight":"bold","color":"#000000"},
   "encoding":{"x":{"datum":1979.879,"type":"quantitative"},"y":{"datum":3005000,"type":"quantitative"}}},
  {"data":{"values":[{}]},"mark":{"type":"text","text":"運用資産 (2019):","align":"left","baseline":"middle","fontSize":17.5,"color":"#000000"},
   "encoding":{"x":{"datum":2011.483,"type":"quantitative"},"y":{"datum":7980000,"type":"quantitative"}}},
  {"data":{"values":[{}]},"mark":{"type":"text","text":"$6,234B","align":"left","baseline":"middle","fontSize":17.5,"fontWeight":"bold","color":"#000000"},
   "encoding":{"x":{"datum":2011.483,"type":"quantitative"},"y":{"datum":7239000,"type":"quantitative"}}}
 ]}
]}
